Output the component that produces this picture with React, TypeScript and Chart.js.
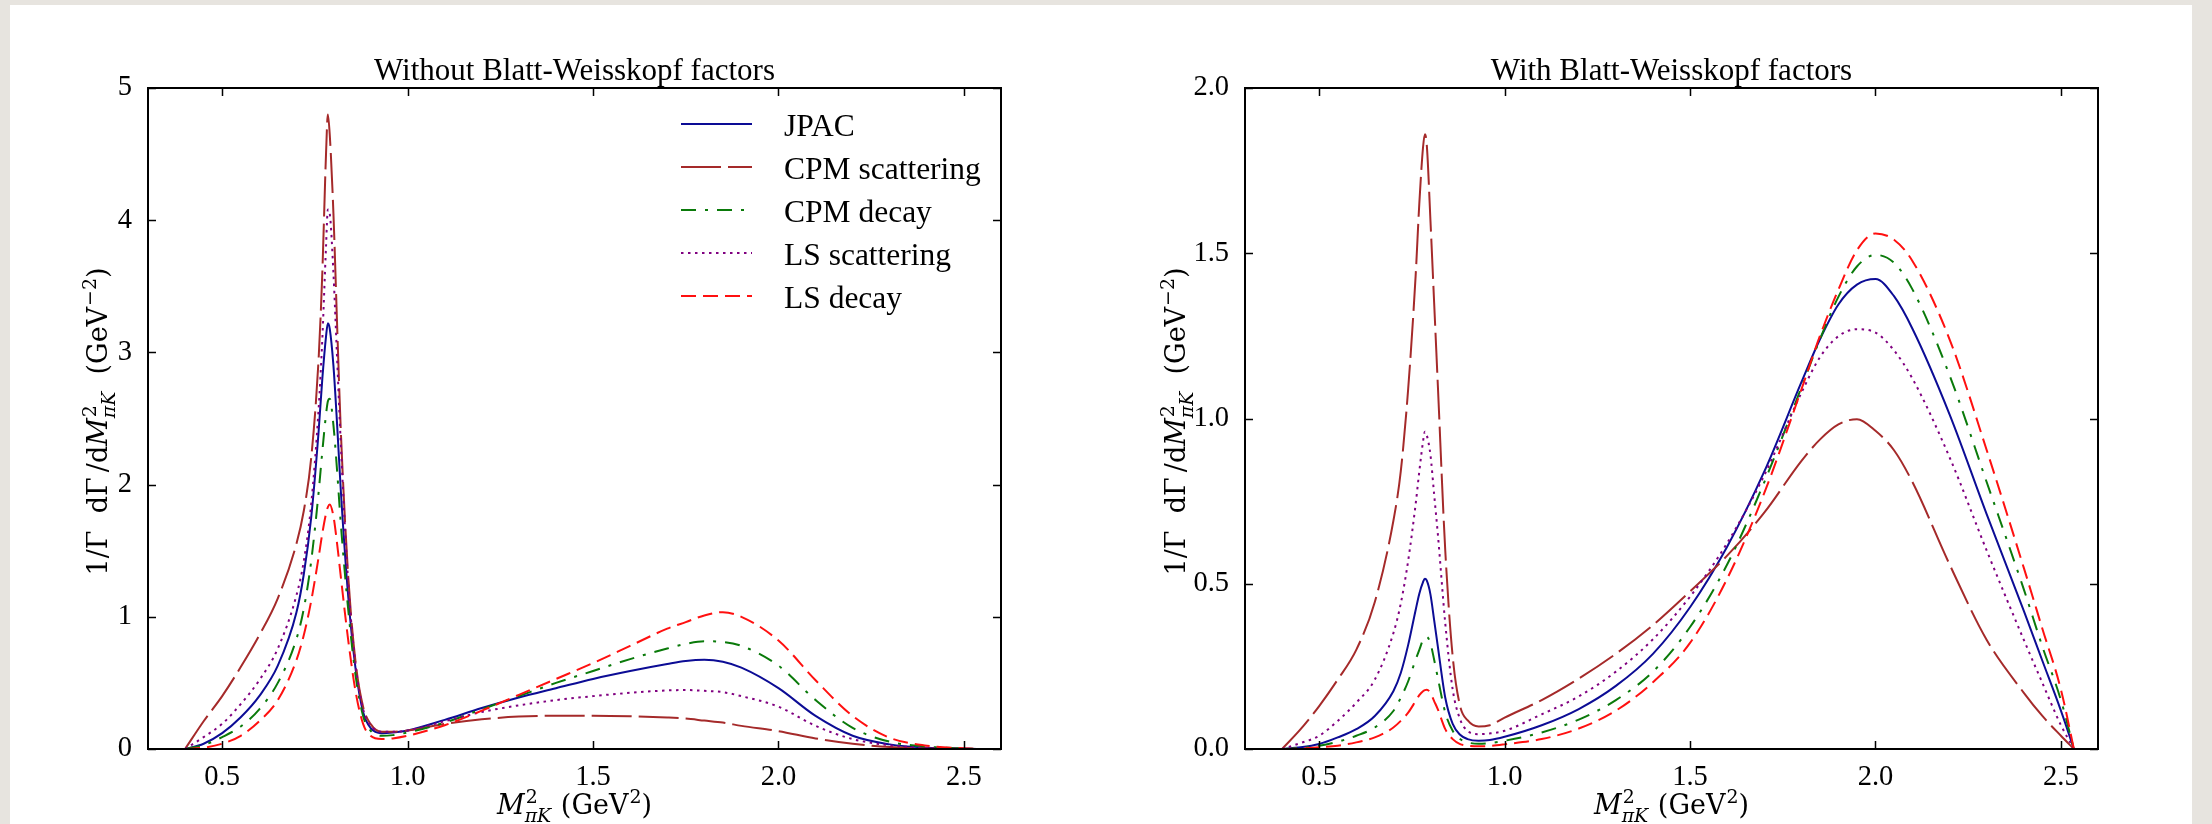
import React, { useEffect, useRef } from "react";
import { Chart, registerables } from "chart.js";

Chart.register(...registerables);

// ---------------- data ----------------
const SERIES_NAMES = ["JPAC", "CPM scattering", "CPM decay", "LS scattering", "LS decay"];
const TITLE_LEFT = "Without Blatt-Weisskopf factors";
const TITLE_RIGHT = "With Blatt-Weisskopf factors";

const X_TICKS = [0.5, 1.0, 1.5, 2.0, 2.5];
const Y_TICKS_LEFT = [0, 1, 2, 3, 4, 5];
const Y_TICKS_RIGHT = [0.0, 0.5, 1.0, 1.5, 2.0];

// Left panel (without Blatt-Weisskopf factors)
const X_LEFT = [0.40, 0.45, 0.50, 0.55, 0.60, 0.65, 0.70, 0.72, 0.74, 0.76, 0.77, 0.78, 0.785, 0.79, 0.80, 0.81, 0.82, 0.84, 0.86, 0.88, 0.90, 0.93, 0.96, 1.00, 1.10, 1.20, 1.30, 1.40, 1.50, 1.60, 1.70, 1.75, 1.80, 1.85, 1.90, 2.00, 2.10, 2.20, 2.30, 2.40, 2.50, 2.55];
const JPAC_LEFT = [0, 0.04, 0.12, 0.24, 0.40, 0.63, 1.03, 1.32, 1.75, 2.40, 2.80, 3.12, 3.22, 3.18, 2.90, 2.45, 1.95, 1.15, 0.60, 0.28, 0.16, 0.12, 0.125, 0.14, 0.22, 0.31, 0.39, 0.46, 0.53, 0.59, 0.643, 0.666, 0.675, 0.66, 0.615, 0.46, 0.25, 0.10, 0.035, 0.01, 0.003, 0];
const CPM_SCAT_LEFT = [0, 0.21, 0.40, 0.62, 0.86, 1.14, 1.55, 1.80, 2.20, 2.95, 3.60, 4.50, 4.80, 4.65, 4.05, 3.20, 2.40, 1.30, 0.65, 0.32, 0.19, 0.13, 0.13, 0.14, 0.19, 0.225, 0.245, 0.252, 0.252, 0.248, 0.238, 0.23, 0.215, 0.20, 0.175, 0.135, 0.08, 0.04, 0.015, 0.004, 0.001, 0];
const CPM_DEC_LEFT = [0, 0.03, 0.09, 0.17, 0.30, 0.50, 0.83, 1.06, 1.42, 1.94, 2.25, 2.53, 2.63, 2.65, 2.45, 2.10, 1.70, 1.05, 0.55, 0.25, 0.14, 0.10, 0.105, 0.125, 0.20, 0.30, 0.40, 0.50, 0.59, 0.68, 0.76, 0.795, 0.815, 0.81, 0.78, 0.63, 0.37, 0.16, 0.055, 0.018, 0.004, 0];
const LS_SCAT_LEFT = [0, 0.09, 0.19, 0.34, 0.52, 0.76, 1.16, 1.42, 1.85, 2.57, 3.10, 3.80, 4.08, 4.05, 3.60, 2.95, 2.30, 1.25, 0.63, 0.30, 0.18, 0.13, 0.13, 0.14, 0.21, 0.28, 0.33, 0.37, 0.40, 0.425, 0.443, 0.446, 0.44, 0.43, 0.40, 0.32, 0.175, 0.075, 0.028, 0.008, 0.002, 0];
const LS_DEC_LEFT = [0, 0.01, 0.04, 0.10, 0.21, 0.37, 0.67, 0.86, 1.12, 1.45, 1.63, 1.78, 1.83, 1.85, 1.76, 1.55, 1.30, 0.82, 0.43, 0.19, 0.10, 0.075, 0.08, 0.10, 0.18, 0.29, 0.41, 0.53, 0.65, 0.78, 0.91, 0.96, 1.01, 1.035, 1.00, 0.82, 0.52, 0.25, 0.085, 0.025, 0.005, 0];

// Right panel (with Blatt-Weisskopf factors)
const X_RIGHT = [0.40, 0.45, 0.50, 0.55, 0.60, 0.65, 0.70, 0.72, 0.74, 0.76, 0.77, 0.78, 0.785, 0.79, 0.80, 0.81, 0.82, 0.84, 0.86, 0.88, 0.90, 0.93, 0.96, 1.00, 1.10, 1.20, 1.30, 1.40, 1.50, 1.60, 1.70, 1.80, 1.85, 1.90, 1.95, 2.00, 2.05, 2.10, 2.20, 2.30, 2.40, 2.45, 2.50, 2.535];
const JPAC_RIGHT = [0, 0.005, 0.015, 0.035, 0.06, 0.10, 0.175, 0.23, 0.315, 0.42, 0.47, 0.505, 0.515, 0.51, 0.468, 0.39, 0.31, 0.155, 0.076, 0.043, 0.03, 0.025, 0.027, 0.037, 0.072, 0.121, 0.191, 0.288, 0.429, 0.612, 0.839, 1.109, 1.239, 1.345, 1.405, 1.422, 1.37, 1.271, 1.012, 0.71, 0.418, 0.267, 0.116, 0];
const CPM_SCAT_RIGHT = [0, 0.06, 0.13, 0.21, 0.30, 0.445, 0.69, 0.84, 1.09, 1.43, 1.65, 1.82, 1.86, 1.83, 1.60, 1.35, 1.10, 0.60, 0.28, 0.13, 0.087, 0.068, 0.072, 0.095, 0.148, 0.213, 0.288, 0.375, 0.477, 0.585, 0.715, 0.871, 0.936, 0.982, 0.998, 0.963, 0.904, 0.807, 0.558, 0.33, 0.17, 0.10, 0.04, 0];
const CPM_DEC_RIGHT = [0, 0.003, 0.01, 0.022, 0.04, 0.065, 0.115, 0.155, 0.205, 0.27, 0.30, 0.33, 0.337, 0.339, 0.32, 0.27, 0.215, 0.11, 0.055, 0.03, 0.02, 0.016, 0.018, 0.025, 0.05, 0.089, 0.148, 0.234, 0.369, 0.558, 0.807, 1.093, 1.239, 1.368, 1.46, 1.495, 1.471, 1.39, 1.13, 0.807, 0.483, 0.31, 0.148, 0];
const LS_SCAT_RIGHT = [0, 0.018, 0.04, 0.085, 0.14, 0.21, 0.35, 0.44, 0.57, 0.74, 0.84, 0.93, 0.96, 0.95, 0.89, 0.77, 0.65, 0.38, 0.18, 0.09, 0.055, 0.045, 0.047, 0.055, 0.105, 0.159, 0.234, 0.332, 0.461, 0.623, 0.828, 1.077, 1.185, 1.249, 1.27, 1.26, 1.206, 1.12, 0.882, 0.60, 0.33, 0.20, 0.072, 0];
const LS_DEC_RIGHT = [0, 0.001, 0.005, 0.01, 0.02, 0.035, 0.065, 0.085, 0.11, 0.145, 0.163, 0.175, 0.178, 0.179, 0.17, 0.145, 0.12, 0.06, 0.03, 0.015, 0.01, 0.008, 0.009, 0.014, 0.03, 0.062, 0.116, 0.202, 0.321, 0.515, 0.774, 1.087, 1.249, 1.39, 1.509, 1.56, 1.541, 1.476, 1.239, 0.904, 0.548, 0.364, 0.18, 0];

// ---------------- styles ----------------
const COLORS = ["#0c0c95", "#a52a2a", "#0a7a0a", "#800080", "#ff1010"];
const DASHES: number[][] = [[], [40, 7], [15, 9, 3, 9], [2.5, 4.5], [15, 7]];

const SERIF = '"Liberation Serif", "Times New Roman", serif';
const MATH = '"DejaVu Serif", serif';

type Seg = { t: string; it?: boolean; sup?: string; sub?: string; subIt?: boolean; gap?: number };
const Y_LABEL: Seg[] = [
  { t: "1/Γ", gap: 1 },
  { t: "dΓ", gap: 0.3 },
  { t: "/d" },
  { t: "M", it: true, sup: "2", sub: "πK", subIt: true, gap: 1 },
  { t: "(GeV", sup: "−2" },
  { t: ")" },
];
const X_LABEL: Seg[] = [
  { t: "M", it: true, sup: "2", sub: "πK", subIt: true, gap: 1 },
  { t: "(GeV", sup: "2" },
  { t: ")" },
];

function mfont(size: number, it?: boolean) {
  return `${it ? "italic " : ""}${size}px ${MATH}`;
}

function drawRich(ctx: CanvasRenderingContext2D, segs: Seg[], size: number, cx: number, by: number, target: number) {
  const ss = size * 0.7;
  let w = 0;
  let gw = 0;
  const items = segs.map((s) => {
    ctx.font = mfont(size, s.it);
    const wm = ctx.measureText(s.t).width;
    let ws = 0;
    if (s.sup) {
      ctx.font = mfont(ss, false);
      ws = Math.max(ws, ctx.measureText(s.sup).width + 1);
    }
    if (s.sub) {
      ctx.font = mfont(ss, s.subIt);
      ws = Math.max(ws, ctx.measureText(s.sub).width);
    }
    w += wm + ws;
    gw += s.gap || 0;
    return { wm, ws };
  });
  const k = gw > 0 ? Math.max(0, target - w) / gw : 0;
  let x = cx - (w + gw * k) / 2;
  ctx.textAlign = "left";
  ctx.textBaseline = "alphabetic";
  segs.forEach((s, i) => {
    ctx.font = mfont(size, s.it);
    ctx.fillText(s.t, x, by);
    x += items[i].wm;
    if (s.sup) {
      ctx.font = mfont(ss, false);
      ctx.fillText(s.sup, x + 1, by - size * 0.42);
    }
    if (s.sub) {
      ctx.font = mfont(ss, s.subIt);
      ctx.fillText(s.sub, x, by + size * 0.3);
    }
    x += items[i].ws + (s.gap || 0) * k;
  });
}

type DecorOpts = {
  title: string;
  xTicks: number[];
  yTicks: number[];
  yLabelX: number;
  legend: boolean;
};

const decorPlugin = {
  id: "decor",
  afterDatasetsDraw(chart: any, _args: any, opts: DecorOpts) {
    const { ctx, chartArea: a, scales } = chart;
    const xs = scales.x;
    const ys = scales.y;
    ctx.save();
    ctx.strokeStyle = "#000";
    ctx.lineWidth = 1.5;
    ctx.setLineDash([]);
    ctx.beginPath();
    for (const v of opts.xTicks) {
      const px = Math.round(xs.getPixelForValue(v)) + 0.5;
      ctx.moveTo(px, a.bottom);
      ctx.lineTo(px, a.bottom - 8);
      ctx.moveTo(px, a.top);
      ctx.lineTo(px, a.top + 8);
    }
    for (const v of opts.yTicks) {
      const py = Math.round(ys.getPixelForValue(v)) + 0.5;
      ctx.moveTo(a.left, py);
      ctx.lineTo(a.left + 8, py);
      ctx.moveTo(a.right, py);
      ctx.lineTo(a.right - 8, py);
    }
    ctx.stroke();
    ctx.lineWidth = 2;
    ctx.strokeRect(a.left, a.top, a.right - a.left, a.bottom - a.top);

    ctx.fillStyle = "#000";
    ctx.font = `31px ${SERIF}`;
    ctx.textAlign = "center";
    ctx.textBaseline = "alphabetic";
    ctx.fillText(opts.title, (a.left + a.right) / 2, a.top - 8);

    drawRich(ctx, X_LABEL, 27, (a.left + a.right) / 2, 814, 155);

    ctx.save();
    ctx.translate(opts.yLabelX, (a.top + a.bottom) / 2 + 3);
    ctx.rotate(-Math.PI / 2);
    drawRich(ctx, Y_LABEL, 27, 0, 0, 308);
    ctx.restore();

    if (opts.legend) {
      chart.data.datasets.forEach((ds: any, i: number) => {
        const y = 124 + i * 43;
        ctx.save();
        ctx.strokeStyle = ds.borderColor;
        ctx.lineWidth = 2;
        ctx.setLineDash(ds.borderDash || []);
        ctx.beginPath();
        ctx.moveTo(a.right - 320, y);
        ctx.lineTo(a.right - 249, y);
        ctx.stroke();
        ctx.restore();
        ctx.fillStyle = "#000";
        ctx.font = `31.5px ${SERIF}`;
        ctx.textAlign = "left";
        ctx.textBaseline = "alphabetic";
        ctx.fillText(ds.label, a.right - 217, y + 11.5);
      });
    }
    ctx.restore();
  },
};

function makeConfig(
  xs: number[],
  series: number[][],
  yMax: number,
  yTicks: number[],
  yFmt: (v: number) => string,
  yAxisWidth: number,
  padRight: number,
  decor: DecorOpts
): any {
  return {
    type: "line",
    data: {
      datasets: SERIES_NAMES.map((name, i) => ({
        label: name,
        data: xs.map((x, j) => ({ x, y: series[i][j] })),
        borderColor: COLORS[i],
        borderDash: DASHES[i],
        borderWidth: 2,
        pointRadius: 0,
        fill: false,
        cubicInterpolationMode: "monotone",
        order: SERIES_NAMES.length - 1 - i,
      })),
    },
    options: {
      responsive: false,
      maintainAspectRatio: false,
      animation: false,
      events: [],
      layout: { padding: { left: 0, top: 88, right: padRight, bottom: 0 } },
      plugins: {
        legend: { display: false },
        tooltip: { enabled: false },
        title: { display: false },
        decor,
      },
      scales: {
        x: {
          type: "linear",
          min: 0.3,
          max: 2.6,
          grid: { display: false },
          border: { display: false },
          afterBuildTicks: (s: any) => {
            s.ticks = X_TICKS.map((v) => ({ value: v }));
          },
          afterFit: (s: any) => {
            s.height = 75;
          },
          ticks: {
            autoSkip: false,
            maxRotation: 0,
            padding: 6,
            color: "#000",
            font: { family: SERIF, size: 28.5, lineHeight: 1 },
            callback: (v: any) => Number(v).toFixed(1),
          },
        },
        y: {
          type: "linear",
          min: 0,
          max: yMax,
          grid: { display: false },
          border: { display: false },
          afterBuildTicks: (s: any) => {
            s.ticks = yTicks.map((v) => ({ value: v }));
          },
          afterFit: (s: any) => {
            s.width = yAxisWidth;
          },
          ticks: {
            autoSkip: false,
            padding: 8,
            color: "#000",
            font: { family: SERIF, size: 28.5, lineHeight: 1 },
            callback: (v: any) => yFmt(Number(v)),
          },
        },
      },
    },
    plugins: [decorPlugin],
  };
}

export default function App() {
  const leftRef = useRef<HTMLCanvasElement>(null);
  const rightRef = useRef<HTMLCanvasElement>(null);

  useEffect(() => {
    document.body.style.margin = "0";
    document.body.style.overflow = "hidden";
    const c1 = new Chart(
      leftRef.current as HTMLCanvasElement,
      makeConfig(
        X_LEFT,
        [JPAC_LEFT, CPM_SCAT_LEFT, CPM_DEC_LEFT, LS_SCAT_LEFT, LS_DEC_LEFT],
        5,
        Y_TICKS_LEFT,
        (v) => String(Math.round(v)),
        148,
        105,
        { title: TITLE_LEFT, xTicks: X_TICKS, yTicks: Y_TICKS_LEFT, yLabelX: 107, legend: true }
      )
    );
    const c2 = new Chart(
      rightRef.current as HTMLCanvasElement,
      makeConfig(
        X_RIGHT,
        [JPAC_RIGHT, CPM_SCAT_RIGHT, CPM_DEC_RIGHT, LS_SCAT_RIGHT, LS_DEC_RIGHT],
        2,
        Y_TICKS_RIGHT,
        (v) => v.toFixed(1),
        139,
        114,
        { title: TITLE_RIGHT, xTicks: X_TICKS, yTicks: Y_TICKS_RIGHT, yLabelX: 79, legend: false }
      )
    );
    return () => {
      c1.destroy();
      c2.destroy();
    };
  }, []);

  return (
    <div style={{ position: "absolute", left: 0, top: 0, width: 2212, height: 824, background: "#e7e4df", overflow: "hidden" }}>
      <div style={{ position: "absolute", left: 10, top: 5, width: 2182, height: 830, background: "#ffffff" }} />
      <canvas ref={leftRef} width={1106} height={824} style={{ position: "absolute", left: 0, top: 0, width: 1106, height: 824 }} />
      <canvas ref={rightRef} width={1106} height={824} style={{ position: "absolute", left: 1106, top: 0, width: 1106, height: 824 }} />
    </div>
  );
}
